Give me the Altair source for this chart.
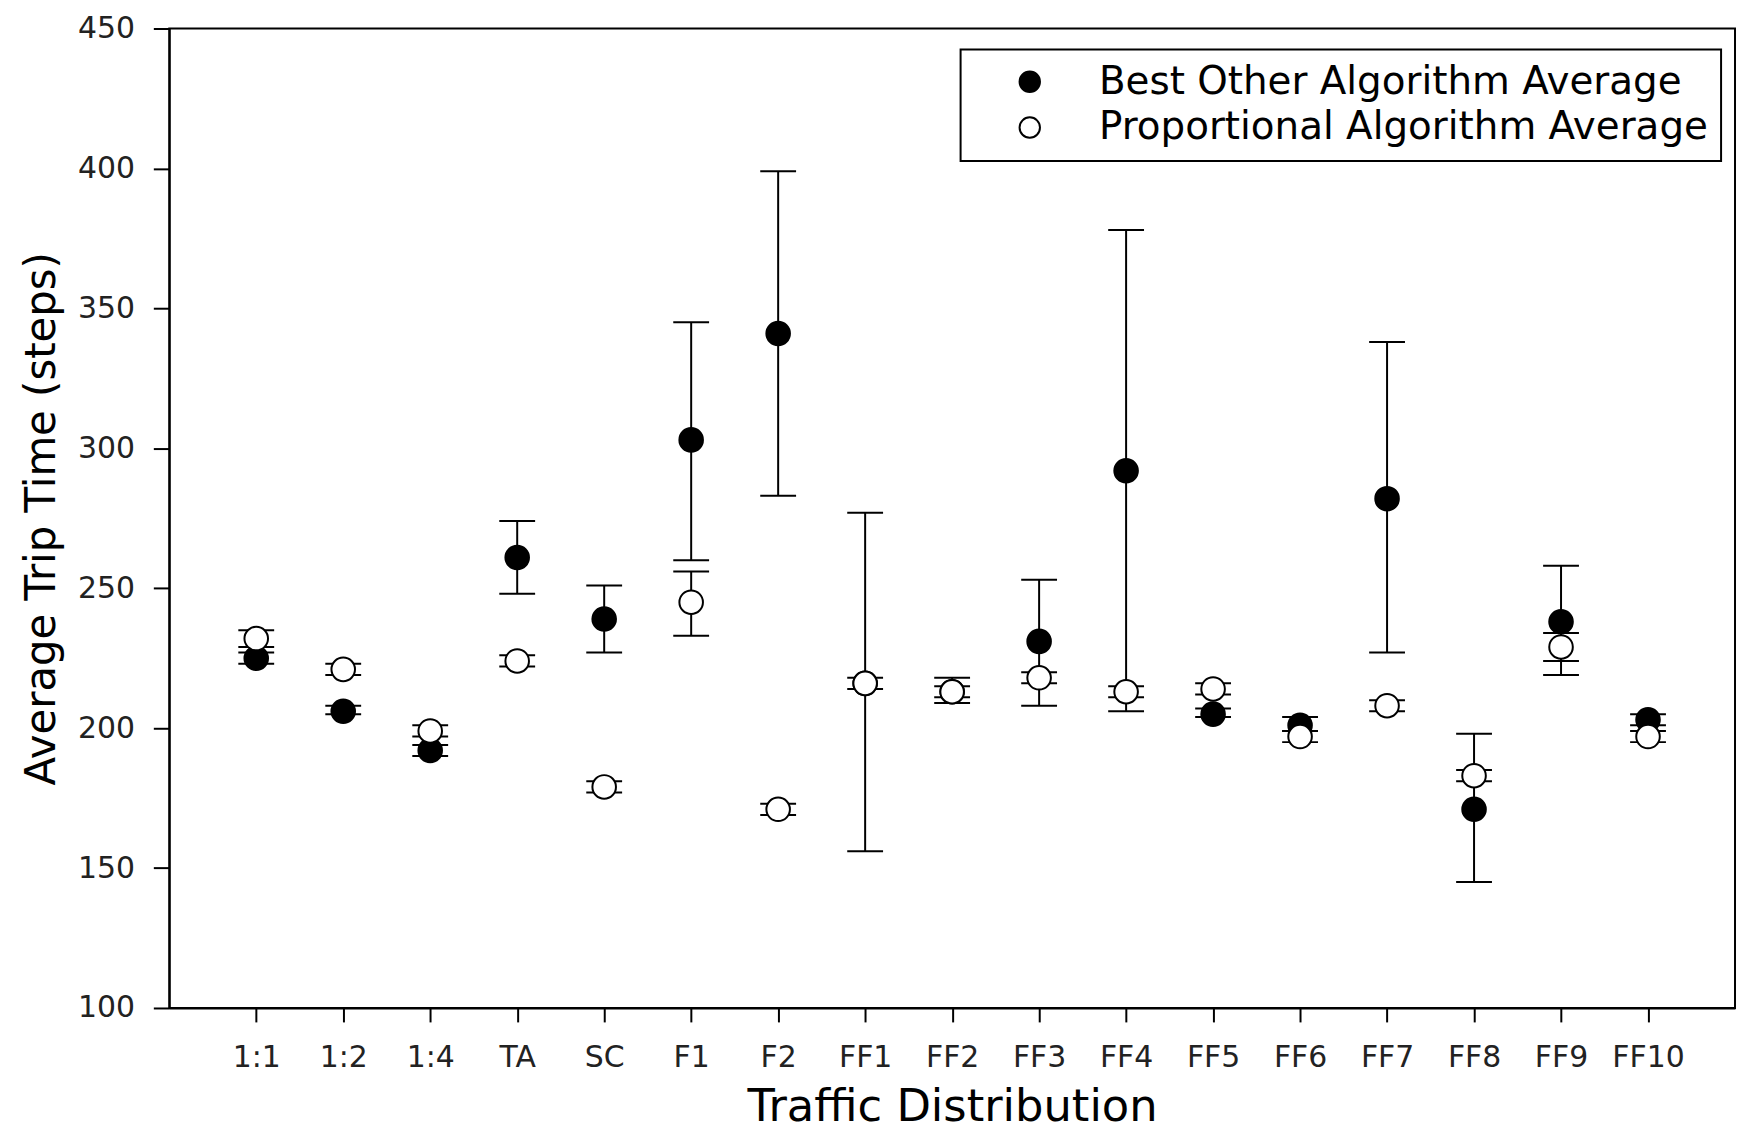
import altair as alt
import pandas as pd

categories = ["1:1", "1:2", "1:4", "TA", "SC", "F1", "F2", "FF1", "FF2", "FF3",
              "FF4", "FF5", "FF6", "FF7", "FF8", "FF9", "FF10"]
series_names = ["Best Other Algorithm Average", "Proportional Algorithm Average"]

best_avg = [225, 206, 192, 261, 239, 303, 341, 216, 213, 231, 292, 205, 201, 282, 171, 238, 203]
best_low = [223, 205, 190, 248, 227, 260, 283, 156, 211, 208, 206, 204, 199, 227, 145, 219, 201]
best_high = [227, 208, 194, 274, 251, 345, 399, 277, 215, 253, 378, 207, 204, 338, 198, 258, 205]

prop_avg = [232, 221, 199, 224, 179, 245, 171, 216, 213, 218, 213, 214, 197, 208, 183, 229, 197]
prop_low = [229, 219, 197, 222, 177, 233, 169, 214, 209, 216, 211, 212, 195, 206, 181, 224, 195]
prop_high = [235, 223, 201, 226, 181, 256, 173, 218, 218, 220, 215, 216, 199, 210, 185, 234, 199]

y_ticks = [100, 150, 200, 250, 300, 350, 400, 450]

rows = []
for i, c in enumerate(categories):
    rows.append(dict(cat=c, series=series_names[0], val=best_avg[i], lo=best_low[i], hi=best_high[i]))
for i, c in enumerate(categories):
    rows.append(dict(cat=c, series=series_names[1], val=prop_avg[i], lo=prop_low[i], hi=prop_high[i]))
df = pd.DataFrame(rows)

FONT = "DejaVu Sans"
PLOT_H = 984

x_axis = alt.Axis(labelAngle=0, tickSize=14, tickWidth=2, tickColor="black",
                  domainColor="black", domainWidth=2, labelFontSize=30, labelFont=FONT,
                  labelColor="#222222", labelPadding=21, grid=False,
                  titleFontSize=45, titleFont=FONT, titleFontWeight="normal",
                  titleColor="black", titleY=99, titleBaseline="middle")
y_axis = alt.Axis(values=y_ticks, tickSize=16, tickWidth=2, tickColor="black",
                  domainColor="black", domainWidth=2, labelFontSize=30, labelFont=FONT,
                  labelColor="#222222", labelPadding=19, grid=False,
                  titleFontSize=42, titleFont=FONT, titleFontWeight="normal",
                  titleColor="black", titleX=-128, titleY=PLOT_H / 2, titleAlign="center",
                  titleBaseline="middle")

x_enc = alt.X("cat:N", sort=categories, scale=alt.Scale(type="point", padding=1),
              axis=x_axis, title="Traffic Distribution")
y_scale = alt.Scale(domain=[100, 450], nice=False, zero=False)


def yenc(field):
    return alt.Y(field, type="quantitative", scale=y_scale, axis=y_axis,
                 title="Average Trip Time (steps)")


base = alt.Chart(df)

rules = base.mark_rule(color="black", strokeWidth=2).encode(
    x=x_enc, y=yenc("lo"), y2="hi")
caps_lo = base.mark_tick(color="black", size=36, thickness=2, opacity=1).encode(
    x=x_enc, y=yenc("lo"))
caps_hi = base.mark_tick(color="black", size=36, thickness=2, opacity=1).encode(
    x=x_enc, y=yenc("hi"))
points = base.mark_point(filled=True, size=560, shape="circle", stroke="black",
                         strokeWidth=2, opacity=1).encode(
    x=x_enc, y=yenc("val"),
    fill=alt.Fill("series:N", scale=alt.Scale(domain=series_names, range=["black", "white"]),
                  legend=alt.Legend(title=None, orient="none", legendX=795, legendY=21,
                                    padding=13, symbolOffset=37, labelOffset=50,
                                    labelFontSize=39, labelFont=FONT, labelColor="black",
                                    labelLimit=1200, rowPadding=6, symbolSize=420,
                                    symbolType="circle", symbolStrokeColor="black",
                                    symbolStrokeWidth=2, strokeColor="black",
                                    fillColor="white")))

chart = alt.layer(rules, caps_lo, caps_hi, points).properties(
    width=1573, height=PLOT_H,
    autosize=alt.AutoSizeParams(type="none"),
    padding={"left": 162, "top": 18, "right": 2, "bottom": 124},
    background="white",
).configure_view(stroke="black", strokeWidth=2).configure_legend(strokeWidth=2)

chart.save("out.html", embed_options={"renderer": "svg", "actions": False})
